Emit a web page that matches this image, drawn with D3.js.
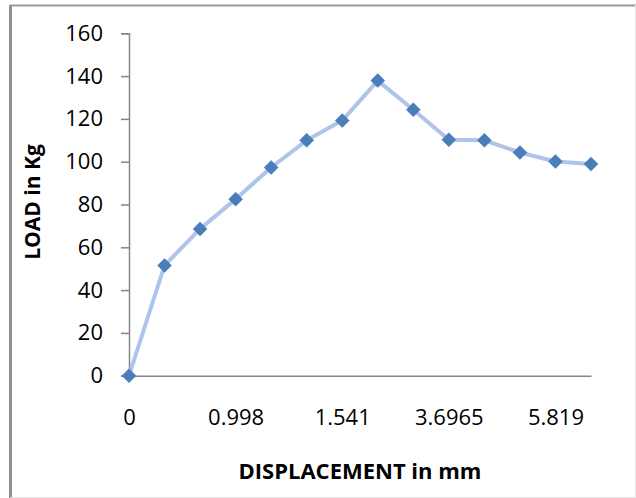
<!DOCTYPE html>
<html>
<head>
<meta charset="utf-8">
<script src="https://cdn.jsdelivr.net/npm/d3@7"></script>
<style>
  body { margin: 0; background: #fff; }
  text { font-family: "Open Sans", "Noto Sans", sans-serif; }
</style>
</head>
<body>
<script>
// displacement categories (only every third one is labelled in the source)
var displacement = ['0', '0.25', '0.62', '0.998', '1.21', '1.37', '1.541', '2.1', '2.9', '3.6965', '4.4', '5.1', '5.819', '6.5'];
var load = [0, 51.5, 68.6, 82.5, 97.3, 110, 119.2, 137.9, 124.3, 110.3, 110, 104.3, 100.1, 98.9];
var yTicks = [0, 20, 40, 60, 80, 100, 120, 140, 160];

var width = 636, height = 498;

var svg = d3.select('body')
  .append('svg')
  .attr('width', width)
  .attr('height', height);

// chart area border
svg.append('line').attr('x1', 10.5).attr('x2', 10.5).attr('y1', 5).attr('y2', 498)
  .attr('stroke', '#8e8e8e').attr('stroke-width', 3);
svg.append('line').attr('x1', 9).attr('x2', 636).attr('y1', 5.5).attr('y2', 5.5)
  .attr('stroke', '#999').attr('stroke-width', 2);
svg.append('line').attr('x1', 635.5).attr('x2', 635.5).attr('y1', 5).attr('y2', 498)
  .attr('stroke', '#e4e4e4').attr('stroke-width', 1);
svg.append('line').attr('x1', 10).attr('x2', 636).attr('y1', 497.5).attr('y2', 497.5)
  .attr('stroke', '#e4e4e4').attr('stroke-width', 1);

var x = d3.scalePoint()
  .domain(displacement)
  .range([129, 591]);

var y = d3.scaleLinear()
  .domain([0, 160])
  .range([375.7, 33.3]);

// y axis
var yAxis = svg.append('g')
  .attr('transform', 'translate(129,0)')
  .call(d3.axisLeft(y).tickValues(yTicks).tickSize(8).tickPadding(18));
yAxis.select('.domain').attr('stroke', '#868686').attr('stroke-width', 1.5);
yAxis.selectAll('.tick line').attr('stroke', '#868686').attr('stroke-width', 1.5);
yAxis.selectAll('text').style('font-size', '22px').attr('fill', '#000');

// x axis
var xAxis = svg.append('g')
  .attr('transform', 'translate(0,' + y(0) + ')')
  .call(d3.axisBottom(x)
    .tickValues(displacement.filter((d, i) => i % 3 === 0))
    .tickSize(0)
    .tickPadding(34));
xAxis.select('.domain').attr('stroke', '#868686').attr('stroke-width', 1.5);
xAxis.selectAll('text').style('font-size', '22px').attr('fill', '#000');

// line
var line = d3.line()
  .x((d, i) => x(displacement[i]))
  .y(d => y(d));

svg.append('path')
  .datum(load)
  .attr('fill', 'none')
  .attr('stroke', '#afc4e8')
  .attr('stroke-width', 4)
  .attr('stroke-linejoin', 'round')
  .attr('d', line);

// diamond markers
svg.selectAll('.marker')
  .data(load)
  .enter()
  .append('path')
  .attr('class', 'marker')
  .attr('transform', (d, i) => 'translate(' + x(displacement[i]) + ',' + y(d) + ')')
  .attr('d', 'M0,-7L7,0L0,7L-7,0Z')
  .attr('fill', '#4a7ebb')
  .attr('stroke', '#4778b4')
  .attr('stroke-width', 0.5);

// axis titles
svg.append('text')
  .attr('transform', 'rotate(-90)')
  .attr('x', -202)
  .attr('y', 40)
  .attr('text-anchor', 'middle')
  .style('font-size', '21px')
  .style('font-weight', 'bold')
  .text('LOAD in Kg');

svg.append('text')
  .attr('x', 360)
  .attr('y', 479)
  .attr('text-anchor', 'middle')
  .style('font-size', '22px')
  .style('font-weight', 'bold')
  .text('DISPLACEMENT in mm');
</script>
</body>
</html>
